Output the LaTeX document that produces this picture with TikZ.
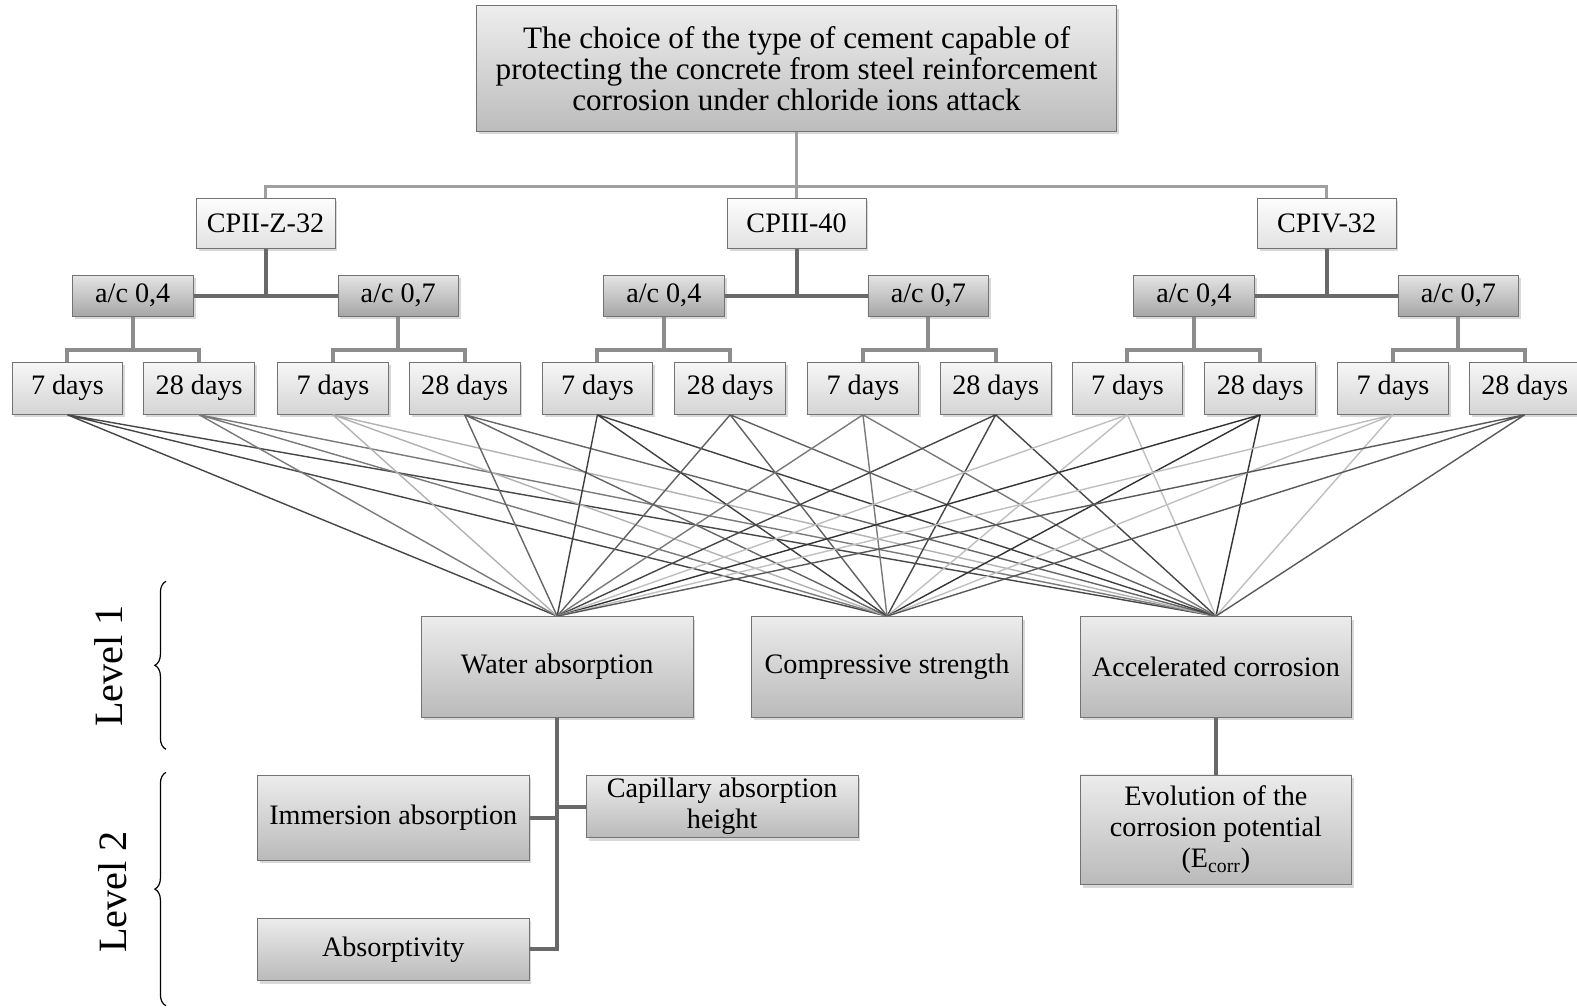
\documentclass[tikz,border=0pt]{standalone}
\usepackage{fontspec}
\setmainfont{Liberation Serif}
\usetikzlibrary{shadows}
\usetikzlibrary{decorations.pathreplacing}
\usepackage{xcolor}

\definecolor{edge}{RGB}{115,115,115}
\definecolor{topA}{RGB}{238,238,238}
\definecolor{topB}{RGB}{188,188,188}
\definecolor{cpA}{RGB}{253,253,253}
\definecolor{cpB}{RGB}{226,226,226}
\definecolor{rA}{RGB}{228,228,228}
\definecolor{rB}{RGB}{166,166,166}
\definecolor{dA}{RGB}{247,247,247}
\definecolor{dB}{RGB}{212,212,212}
\definecolor{lvA}{RGB}{236,236,236}
\definecolor{lvB}{RGB}{186,186,186}
\definecolor{busln}{RGB}{160,160,160}
\definecolor{stemln}{RGB}{105,105,105}
\definecolor{twigln}{RGB}{140,140,140}

\tikzset{
  base/.style={draw=edge, line width=0.4pt, align=center, inner sep=1pt,
    font=\fontsize{14}{15.5}\selectfont,
    drop shadow={shadow xshift=1.2pt, shadow yshift=-1.5pt, opacity=0.3}},
  topbox/.style={base, minimum width=318pt, minimum height=62.5pt, top color=topA, bottom color=topB,
    font=\fontsize{15.5}{15.5}\selectfont},
  cpbox/.style={base, minimum width=69pt, minimum height=25pt, top color=cpA, bottom color=cpB},
  ratiobox/.style={base, minimum width=60pt, minimum height=20.5pt, top color=rA, bottom color=rB},
  daybox/.style={base, minimum width=55pt, minimum height=26pt, top color=dA, bottom color=dB},
  lvbox/.style={base, minimum width=135pt, top color=lvA, bottom color=lvB},
  tie/.style={line width=0.7pt},
  bus/.style={busln, line width=1.5pt},
  stem/.style={stemln, line width=2pt},
  twig/.style={twigln, line width=2pt},
}

\begin{document}
\begin{tikzpicture}[x=0.5pt,y=0.5pt,yscale=-1,xscale=1]
\useasboundingbox (0,0) rectangle (1568,1002);

% Goal
\node[topbox] (top) at (792,68) {The choice of the type of cement capable of\\protecting the concrete from steel reinforcement\\corrosion under chloride ions attack};

% Cements
\node[cpbox] (cp1) at (264,222) {CPII-Z-32};
\node[cpbox] (cp2) at (792,222) {CPIII-40};
\node[cpbox] (cp3) at (1319,222) {CPIV-32};

% Ratios
\node[ratiobox] (r1) at (132,294) {a/c 0,4};
\node[ratiobox] (r2) at (396,294) {a/c 0,7};
\node[ratiobox] (r3) at (660,294) {a/c 0,4};
\node[ratiobox] (r4) at (923,294) {a/c 0,7};
\node[ratiobox] (r5) at (1187,294) {a/c 0,4};
\node[ratiobox] (r6) at (1450,294) {a/c 0,7};

% Ages
\node[daybox] (d1) at (67,386) {7 days};
\node[daybox] (d2) at (198,386) {28 days};
\node[daybox] (d3) at (331,386) {7 days};
\node[daybox] (d4) at (462,386) {28 days};
\node[daybox] (d5) at (594,386) {7 days};
\node[daybox] (d6) at (726,386) {28 days};
\node[daybox] (d7) at (858,386) {7 days};
\node[daybox] (d8) at (990,386) {28 days};
\node[daybox] (d9) at (1121,386) {7 days};
\node[daybox] (d10) at (1253,386) {28 days};
\node[daybox] (d11) at (1385,386) {7 days};
\node[daybox] (d12) at (1516,386) {28 days};

% Level 1
\node[lvbox, minimum height=50pt] (wat) at (554,663) {Water absorption};
\node[lvbox, minimum height=50pt] (comp) at (882,663) {Compressive strength};
\node[lvbox, minimum height=50pt] (acc) at (1209,663) {Accelerated corrosion};

% Level 2
\node[lvbox, minimum height=42pt] (imm) at (391,813) {Immersion absorption};
\node[lvbox, minimum height=31pt] (cap) at (718,802) {Capillary absorption\\height};
\node[lvbox, minimum height=31pt] (abs) at (391,944) {Absorptivity};
\node[lvbox, minimum height=54.5pt] (evo) at (1209,825) {Evolution of the\\corrosion potential\\(E\textsubscript{corr})};

% Level labels
\node[rotate=90, font=\fontsize{20}{24}\selectfont] (lv1) at (108,662) {Level 1};
\node[rotate=90, font=\fontsize{20}{24}\selectfont] (lv2) at (112,887) {Level 2};
\draw[decorate, decoration={brace, amplitude=5.5pt}, line width=0.6pt] (165,745) -- (165,578);
\draw[decorate, decoration={brace, amplitude=5.5pt}, line width=0.6pt] (165,1000) -- (165,768);

% Tree
\coordinate (hub) at (792,185);
\draw[bus] (top.south) -- (hub);
\draw[bus] (cp1.north) |- (hub) -| (cp3.north);
\draw[bus] (hub) -- (cp2.north);

\draw[stem] (cp1.south) -- (cp1.south |- r1.east);
\draw[stem] (r1.east) -- (r2.west);
\draw[stem] (cp2.south) -- (cp2.south |- r3.east);
\draw[stem] (r3.east) -- (r4.west);
\draw[stem] (cp3.south) -- (cp3.south |- r5.east);
\draw[stem] (r5.east) -- (r6.west);

\draw[twig] (d1.north) -- ++(0,-12) coordinate (m1) -| (d2.north);
\draw[twig] (r1.south) -- (r1.south |- m1);
\draw[twig] (d3.north) -- ++(0,-12) coordinate (m2) -| (d4.north);
\draw[twig] (r2.south) -- (r2.south |- m2);
\draw[twig] (d5.north) -- ++(0,-12) coordinate (m3) -| (d6.north);
\draw[twig] (r3.south) -- (r3.south |- m3);
\draw[twig] (d7.north) -- ++(0,-12) coordinate (m4) -| (d8.north);
\draw[twig] (r4.south) -- (r4.south |- m4);
\draw[twig] (d9.north) -- ++(0,-12) coordinate (m5) -| (d10.north);
\draw[twig] (r5.south) -- (r5.south |- m5);
\draw[twig] (d11.north) -- ++(0,-12) coordinate (m6) -| (d12.north);
\draw[twig] (r6.south) -- (r6.south |- m6);

% Ages to level 1
\draw[tie, black!72] (d1.south) -- (wat.north) (d1.south) -- (comp.north) (d1.south) -- (acc.north);
\draw[tie, black!52] (d2.south) -- (wat.north) (d2.south) -- (comp.north) (d2.south) -- (acc.north);
\draw[tie, black!30] (d3.south) -- (wat.north) (d3.south) -- (comp.north) (d3.south) -- (acc.north);
\draw[tie, black!60] (d4.south) -- (wat.north) (d4.south) -- (comp.north) (d4.south) -- (acc.north);
\draw[tie, black!75] (d5.south) -- (wat.north) (d5.south) -- (comp.north) (d5.south) -- (acc.north);
\draw[tie, black!62] (d6.south) -- (wat.north) (d6.south) -- (comp.north) (d6.south) -- (acc.north);
\draw[tie, black!52] (d7.south) -- (wat.north) (d7.south) -- (comp.north) (d7.south) -- (acc.north);
\draw[tie, black!72] (d8.south) -- (wat.north) (d8.south) -- (comp.north) (d8.south) -- (acc.north);
\draw[tie, black!25] (d9.south) -- (wat.north) (d9.south) -- (comp.north) (d9.south) -- (acc.north);
\draw[tie, black!80] (d10.south) -- (wat.north) (d10.south) -- (comp.north) (d10.south) -- (acc.north);
\draw[tie, black!25] (d11.south) -- (wat.north) (d11.south) -- (comp.north) (d11.south) -- (acc.north);
\draw[tie, black!65] (d12.south) -- (wat.north) (d12.south) -- (comp.north) (d12.south) -- (acc.north);

% Level 1 to level 2
\draw[stem] (wat.south) -- (wat.south |- abs.east) -- (abs.east);
\draw[stem] (imm.east) -- (imm.east -| wat.south);
\draw[stem] (cap.west) -- (cap.west -| wat.south);
\draw[stem] (acc.south) -- (evo.north);

\end{tikzpicture}
\end{document}
